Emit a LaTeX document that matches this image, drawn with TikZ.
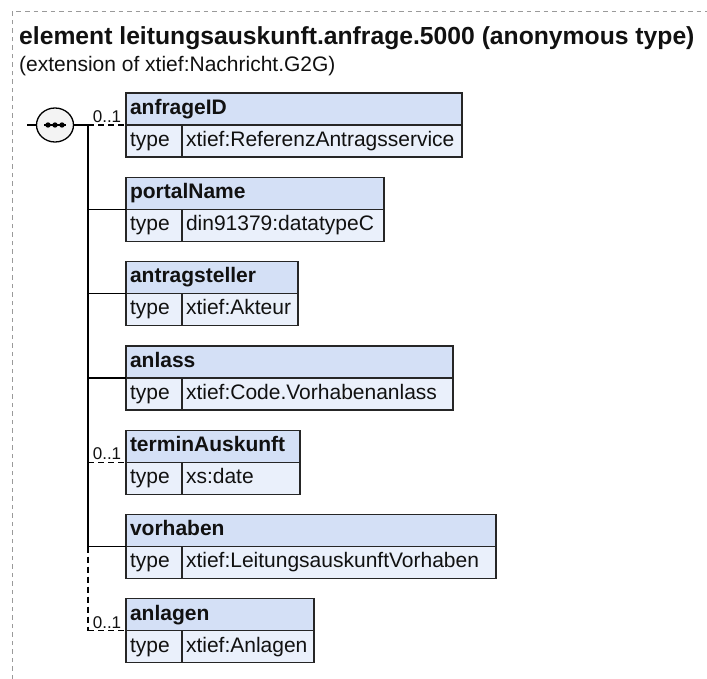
\documentclass[tikz,border=0pt]{standalone}
\usepackage{fontspec}
\setmainfont{Liberation Sans}
\usetikzlibrary{calc,positioning,shapes.geometric}
\definecolor{schemaText}{HTML}{111111}
\definecolor{schemaBorder}{HTML}{262626}
\definecolor{schemaFrame}{HTML}{9A9A9A}
\definecolor{elementHead}{HTML}{D4E0F6}
\definecolor{elementBody}{HTML}{EAF0FB}
\definecolor{compositorFill}{HTML}{F3F3F3}
\newcommand{\schemafont}{\fontsize{21}{24}\selectfont}
\newcommand{\occurs}{{\fontsize{17}{19}\selectfont 0..1}}

\begin{document}
\begin{tikzpicture}[
  x=1pt, y=-1pt,
  cell/.style={
    draw=schemaBorder,
    text=schemaText,
    line width=1.2pt,
    inner xsep=4pt,
    inner ysep=2pt,
    outer sep=0pt,
    align=left,
    text height=15pt,
    text depth=4.5pt,
    minimum height=32pt,
    font=\schemafont
  },
  elhead/.style={cell, fill=elementHead, font=\schemafont\bfseries},
  eltype/.style={cell, fill=elementBody, text width=48pt},
  elvalue/.style={cell, fill=elementBody},
  branch/.style={draw=black, line width=1.3pt},
  optbranch/.style={branch, dash pattern=on 6pt off 4pt},
  occ/.style={inner sep=1.5pt, text=schemaText},
  frame/.style={draw=schemaFrame, line width=1pt, dash pattern=on 4.5pt off 4pt},
  compositor/.style={ellipse, draw=black, fill=compositorFill, line width=1.3pt,
    minimum width=37pt, minimum height=34pt, inner sep=0pt}
]
\useasboundingbox (0,0) rectangle (707,679);
\draw[frame] (12,679) -- (12,12) -- (707,12);

\node[anchor=base west, inner sep=0pt, text=schemaText,
      font=\fontsize{24.7}{29}\selectfont\bfseries] (title) at (19,45)
  {element leitungsauskunft.anfrage.5000 (anonymous type)};
\node[anchor=base west, inner sep=0pt, text=schemaText, font=\schemafont] (subtitle) at (19,72)
  {(extension of xtief:Nachricht.G2G)};

% Child elements of the sequence, one box of two rows each.
\node[elhead, text width=328pt, anchor=north west] (anfrageID) at (126,93) {anfrageID};
\node[eltype, below=0pt of anfrageID.south west, anchor=north west] (anfrageID-k) {type};
\node[elvalue, text width=272pt, right=0pt of anfrageID-k] (anfrageID-v) {xtief:ReferenzAntragsservice};

\node[elhead, text width=250pt, below=20.3pt of anfrageID-k.south west, anchor=north west] (portalName) {portalName};
\node[eltype, below=0pt of portalName.south west, anchor=north west] (portalName-k) {type};
\node[elvalue, text width=194pt, right=0pt of portalName-k] (portalName-v) {din91379:datatypeC};

\node[elhead, text width=164pt, below=20.3pt of portalName-k.south west, anchor=north west] (antragsteller) {antragsteller};
\node[eltype, below=0pt of antragsteller.south west, anchor=north west] (antragsteller-k) {type};
\node[elvalue, text width=108pt, right=0pt of antragsteller-k] (antragsteller-v) {xtief:Akteur};

\node[elhead, text width=319pt, below=20.3pt of antragsteller-k.south west, anchor=north west] (anlass) {anlass};
\node[eltype, below=0pt of anlass.south west, anchor=north west] (anlass-k) {type};
\node[elvalue, text width=263pt, right=0pt of anlass-k] (anlass-v) {xtief:Code.Vorhabenanlass};

\node[elhead, text width=166pt, below=20.3pt of anlass-k.south west, anchor=north west] (terminAuskunft) {terminAuskunft};
\node[eltype, below=0pt of terminAuskunft.south west, anchor=north west] (terminAuskunft-k) {type};
\node[elvalue, text width=110pt, right=0pt of terminAuskunft-k] (terminAuskunft-v) {xs:date};

\node[elhead, text width=362pt, below=20.3pt of terminAuskunft-k.south west, anchor=north west] (vorhaben) {vorhaben};
\node[eltype, below=0pt of vorhaben.south west, anchor=north west] (vorhaben-k) {type};
\node[elvalue, text width=306pt, right=0pt of vorhaben-k] (vorhaben-v) {xtief:LeitungsauskunftVorhaben};

\node[elhead, text width=180pt, below=20.3pt of vorhaben-k.south west, anchor=north west] (anlagen) {anlagen};
\node[eltype, below=0pt of anlagen.south west, anchor=north west] (anlagen-k) {type};
\node[elvalue, text width=124pt, right=0pt of anlagen-k] (anlagen-v) {xtief:Anlagen};

% Sequence compositor and its trunk.
\node[compositor] (seq) at (55,125) {};
\draw[line width=1.3pt] ([xshift=-11pt]seq.center) -- ([xshift=11pt]seq.center);
\foreach \dx in {-7,0,7}
  \fill ([xshift=\dx pt]seq.center) circle (2.7pt);
\coordinate (seq-in) at (27,125);
\coordinate (trunk) at (88,125);
\draw[branch] (seq-in) -- (seq.west);
\draw[branch] (seq.east) -- (trunk);
\draw[branch] (trunk) -- (trunk |- vorhaben.south west);
\draw[optbranch] (trunk |- vorhaben.south west) -- (trunk |- anlagen.south west);

% Branches to the child elements.
\draw[optbranch] (trunk) -- node[occ, above] {\occurs} (anfrageID.south west);
\draw[branch] (trunk |- portalName.south west) -- (portalName.south west);
\draw[branch] (trunk |- antragsteller.south west) -- (antragsteller.south west);
\draw[branch] (trunk |- anlass.south west) -- (anlass.south west);
\draw[optbranch] (trunk |- terminAuskunft.south west) -- node[occ, above] {\occurs} (terminAuskunft.south west);
\draw[branch] (trunk |- vorhaben.south west) -- (vorhaben.south west);
\draw[optbranch] (trunk |- anlagen.south west) -- node[occ, above] {\occurs} (anlagen.south west);

\end{tikzpicture}
\end{document}
